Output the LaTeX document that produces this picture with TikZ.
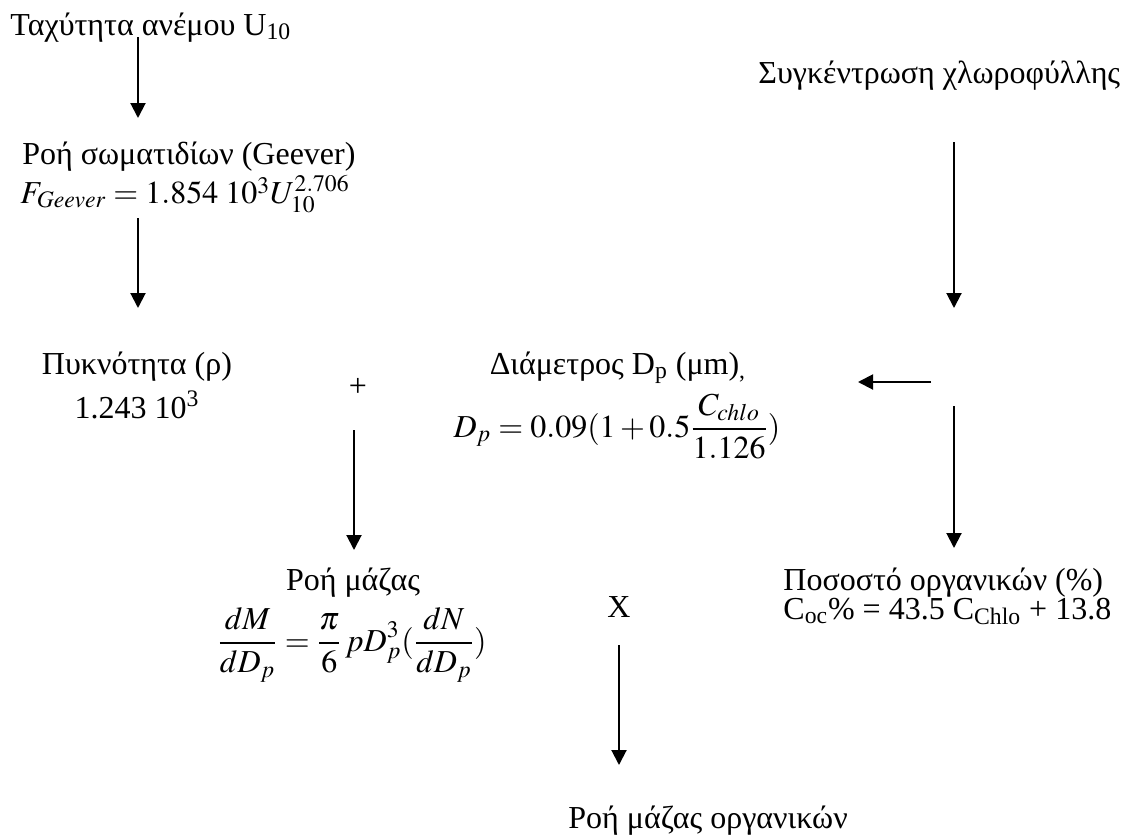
\documentclass[tikz,border=0pt]{standalone}
\usepackage{mathptmx}
\usepackage[no-math]{fontspec}
\setmainfont{Liberation Serif}
\usetikzlibrary{arrows.meta}

\newcommand{\lowsup}[2][-3pt]{\raisebox{#1}{$\scriptstyle #2$}}

\begin{document}
\begin{tikzpicture}[x=0.5pt, y=-0.5pt,
        every node/.style={inner sep=0pt, font=\fontsize{16}{19}\selectfont},
        lbl/.style={anchor=base west},
        ctr/.style={anchor=base},
        flow/.style={line width=1pt, -{Triangle[length=7.5pt, width=7.5pt]}}]
            % Frame to fix the page size
            \useasboundingbox                                   (0, 0) rectangle (1125, 836);
            % Wind branch
            \node[lbl] (wind)     at ( 10,  35) {Ταχύτητα ανέμου U\textsubscript{10}};
            \node[lbl] (geever)   at ( 22, 164) {Ροή σωματιδίων (Geever)};
            \node[lbl] (geeverEq) at ( 20, 203) {$F_{Geever} = 1.854\;10^{\lowsup[-1pt]{3}}U_{10}^{\lowsup{2.706}}$};
            \node[ctr] (dens)     at (137, 374) {Πυκνότητα (ρ)};
            \node[ctr] (densVal)  at (137, 418) {1.243 10\textsuperscript{3}};
            \node      (plus)     at (358, 387) {+};
            % Chlorophyll branch
            \node[lbl] (chlo)     at (758,  83) {Συγκέντρωση χλωροφύλλης};
            \node[ctr] (diam)     at (618, 374) {Διάμετρος D\textsubscript{p} (μm)\textsubscript{,}};
            \node[ctr] (diamEq)   at (617, 437) {$\displaystyle D_{p} = 0.09(1+0.5\frac{C_{chlo}}{1.126})$};
            \node[lbl] (org)      at (783, 590) {Ποσοστό οργανικών (\%)};
            \node[lbl] (orgEq)    at (783, 619) {C\textsubscript{oc}\% = 43.5 C\textsubscript{Chlo} + 13.8};
            % Mass flux
            \node[ctr] (mass)     at (353, 590) {Ροή μάζας};
            \node[ctr] (massEq)   at (352, 651) {$\displaystyle\frac{dM}{dD_{p}} = \frac{\pi}{6}\,pD_{p}^{3}(\frac{dN}{dD_{p}})$};
            \node      (times)    at (619, 607) {X};
            \node[lbl] (orgmass)  at (568, 828) {Ροή μάζας οργανικών};
            % Arrow ends
            \coordinate (w1) at (138,  37);  \coordinate (w2) at (138, 118);
            \coordinate (g1) at (138, 218);  \coordinate (g2) at (138, 308);
            \coordinate (c1) at (954, 142);  \coordinate (c2) at (954, 308);
            \coordinate (d1) at (931, 382);  \coordinate (d2) at (858, 382);
            \coordinate (o1) at (954, 406);  \coordinate (o2) at (954, 548);
            \coordinate (m1) at (354, 430);  \coordinate (m2) at (354, 550);
            \coordinate (x1) at (619, 645);  \coordinate (x2) at (619, 765);
            % Arrows
            \draw[flow] (w1) -- (w2);
            \draw[flow] (g1) -- (g2);
            \draw[flow] (c1) -- (c2);
            \draw[flow] (d1) -- (d2);
            \draw[flow] (o1) -- (o2);
            \draw[flow] (m1) -- (m2);
            \draw[flow] (x1) -- (x2);
        \end{tikzpicture}
\end{document}
